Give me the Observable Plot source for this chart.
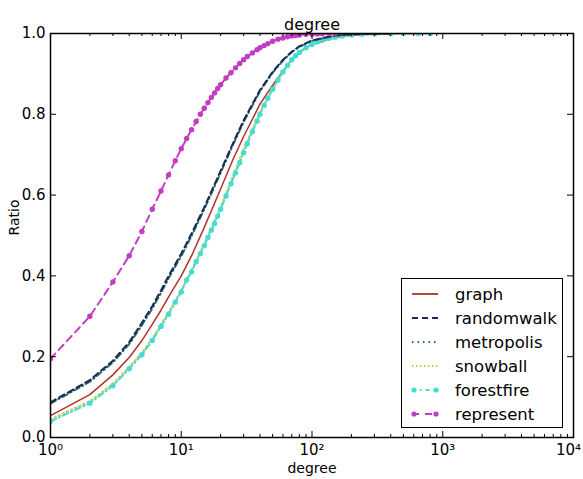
<!DOCTYPE html>
<html>
<head>
<meta charset="utf-8">
<script src="https://cdn.jsdelivr.net/npm/d3@7"></script>
<script src="https://cdn.jsdelivr.net/npm/@observablehq/plot@0.6"></script>
<style>
  html, body { margin: 0; padding: 0; background: #fff; }
  #wrap { position: relative; width: 583px; height: 479px; font-family: "DejaVu Sans", sans-serif; }
  #legend { position: absolute; left: 401px; top: 278px; width: 162px; height: 150px; border: 1.5px solid #000; background: #fff; box-sizing: border-box; }
  .row { position: absolute; left: 0; height: 24px; display: flex; align-items: center; font-size: 16.5px; color: #000; }
  .row svg { margin-left: 9px; margin-right: 16px; }
</style>
</head>
<body>
<div id="wrap"></div>
<script>
// ---- data ----
const seriesNames = ["graph", "randomwalk", "metropolis", "snowball", "forestfire", "represent"];
const seriesColors = ["#b0322a", "#1b2a5c", "#2f6a58", "#d2c85a", "#45dcd2", "#c23cc4"];

const graphDegree = [1, 2, 3, 4, 5, 6, 7, 8, 10, 12, 15, 20, 25, 30, 40, 50, 60, 70, 80, 100, 150, 200, 300, 500];
const graphRatio  = [0.054, 0.106, 0.155, 0.198, 0.24, 0.28, 0.315, 0.348, 0.40, 0.45, 0.52, 0.615, 0.69, 0.745, 0.825, 0.872, 0.907, 0.935, 0.953, 0.973, 0.99, 0.996, 0.999, 1.0];

const randomwalkDegree = [1, 2, 3, 4, 5, 6, 7, 8, 10, 12, 15, 20, 25, 30, 40, 50, 60, 70, 80, 100, 150, 200, 400];
const randomwalkRatio  = [0.087, 0.142, 0.19, 0.236, 0.284, 0.325, 0.364, 0.40, 0.455, 0.505, 0.57, 0.66, 0.73, 0.785, 0.86, 0.905, 0.935, 0.955, 0.968, 0.983, 0.995, 0.998, 1.0];

const metropolisDegree = [1, 2, 3, 4, 5, 6, 7, 8, 10, 12, 15, 20, 25, 30, 40, 50, 60, 70, 80, 100, 150, 200, 400];
const metropolisRatio  = [0.084, 0.138, 0.186, 0.231, 0.278, 0.319, 0.358, 0.394, 0.449, 0.499, 0.565, 0.655, 0.726, 0.781, 0.857, 0.903, 0.933, 0.954, 0.967, 0.982, 0.995, 0.998, 1.0];

const snowballDegree = [1, 2, 3, 4, 5, 6, 7, 8, 10, 12, 15, 20, 25, 30, 40, 50, 60, 70, 80, 100, 150, 200, 300, 500, 800];
const snowballRatio  = [0.045, 0.09, 0.133, 0.175, 0.21, 0.245, 0.28, 0.31, 0.365, 0.415, 0.48, 0.57, 0.65, 0.715, 0.805, 0.864, 0.905, 0.938, 0.955, 0.974, 0.989, 0.995, 0.998, 0.9995, 1.0];

const forestfireDegree = [1, 2, 3, 4, 5, 6, 7, 8, 9, 10, 11, 12, 13, 14, 15, 16, 17, 18, 19, 20, 22, 24, 26, 28, 30, 32, 35, 38, 40, 43, 46, 50, 55, 60, 65, 70, 75, 80, 90, 100, 110, 120, 135, 150, 170, 200, 240, 300, 400, 500, 650, 800];
const forestfireRatio  = [0.04, 0.085, 0.128, 0.17, 0.205, 0.24, 0.275, 0.305, 0.335, 0.36, 0.39, 0.41, 0.435, 0.455, 0.475, 0.495, 0.513, 0.53, 0.548, 0.565, 0.598, 0.628, 0.655, 0.68, 0.705, 0.727, 0.757, 0.783, 0.80, 0.822, 0.84, 0.862, 0.885, 0.905, 0.921, 0.935, 0.945, 0.953, 0.965, 0.973, 0.979, 0.983, 0.988, 0.991, 0.994, 0.996, 0.998, 0.999, 0.9995, 1.0, 1.0, 1.0];

const representDegree = [1, 2, 3, 4, 5, 6, 7, 8, 9, 10, 11, 12, 13, 14, 15, 16, 17, 18, 19, 20, 22, 24, 26, 28, 30, 32, 35, 38, 40, 43, 46, 50, 55, 60, 65, 70, 75, 80, 90, 100, 110, 120, 135, 150];
const representRatio  = [0.195, 0.30, 0.385, 0.45, 0.51, 0.565, 0.61, 0.65, 0.685, 0.715, 0.74, 0.762, 0.782, 0.80, 0.815, 0.829, 0.842, 0.853, 0.864, 0.873, 0.89, 0.903, 0.915, 0.926, 0.935, 0.943, 0.952, 0.96, 0.965, 0.97, 0.975, 0.981, 0.986, 0.989, 0.992, 0.994, 0.995, 0.996, 0.998, 0.998, 0.999, 0.9995, 1.0, 1.0];

const xTicks = [1, 10, 100, 1000, 10000];
const xTickLabels = ["10\u2070", "10\u00b9", "10\u00b2", "10\u00b3", "10\u2074"];
const yTicks = [0, 0.2, 0.4, 0.6, 0.8, 1.0];
const yTickLabels = ["0.0", "0.2", "0.4", "0.6", "0.8", "1.0"];

// ---- build tables ----
function rows(name, xs, ys) { return xs.map((d, i) => ({series: name, degree: d, ratio: ys[i]})); }
const graph = rows("graph", graphDegree, graphRatio);
const randomwalk = rows("randomwalk", randomwalkDegree, randomwalkRatio);
const metropolis = rows("metropolis", metropolisDegree, metropolisRatio);
const snowball = rows("snowball", snowballDegree, snowballRatio);
const forestfire = rows("forestfire", forestfireDegree, forestfireRatio);
const represent = rows("represent", representDegree, representRatio);
const xTickRows = xTicks.map((d, i) => ({v: d, label: xTickLabels[i]}));
const yTickRows = yTicks.map((d, i) => ({v: d, label: yTickLabels[i]}));

const minorTicks = [];
for (const base of [1, 10, 100, 1000]) for (let m = 2; m <= 9; m++) minorTicks.push(base * m);

const W = 583, H = 479, mL = 50, mR = 10, mT = 33, mB = 42;
const fw = W - mL - mR, fh = H - mT - mB;
const col = Object.fromEntries(seriesNames.map((n, i) => [n, seriesColors[i]]));

const chart = Plot.plot({
  width: W, height: H,
  marginLeft: mL, marginRight: mR, marginTop: mT, marginBottom: mB,
  style: {fontFamily: "DejaVu Sans, sans-serif", fontSize: "14px", background: "white", overflow: "visible"},
  x: {type: "log", domain: [1, 10000], axis: null},
  y: {domain: [0, 1], axis: null},
  marks: [
    Plot.line(graph, {x: "degree", y: "ratio", stroke: col.graph, strokeWidth: 1.5, clip: true}),
    Plot.line(snowball, {x: "degree", y: "ratio", stroke: col.snowball, strokeWidth: 2, strokeDasharray: "1.5,3", clip: true}),
    Plot.line(forestfire, {x: "degree", y: "ratio", stroke: col.forestfire, strokeWidth: 2, strokeDasharray: "6,3,1.5,3", clip: true}),
    Plot.dot(forestfire, {x: "degree", y: "ratio", fill: col.forestfire, r: 2.7, clip: true}),
    Plot.line(metropolis, {x: "degree", y: "ratio", stroke: col.metropolis, strokeWidth: 2, strokeDasharray: "6,3,1.5,3", clip: true}),
    Plot.line(randomwalk, {x: "degree", y: "ratio", stroke: col.randomwalk, strokeWidth: 2, strokeDasharray: "6,4", clip: true}),
    Plot.line(represent, {x: "degree", y: "ratio", stroke: col.represent, strokeWidth: 2, strokeDasharray: "7,5", clip: true}),
    Plot.dot(represent, {x: "degree", y: "ratio", fill: col.represent, r: 2.7, clip: true}),
    // inward ticks on all four sides
    Plot.ruleX(xTicks, {x: d => d, insetTop: fh - 6, stroke: "black", strokeWidth: 1}),
    Plot.ruleX(xTicks, {x: d => d, insetBottom: fh - 6, stroke: "black", strokeWidth: 1}),
    Plot.ruleX(minorTicks, {x: d => d, insetTop: fh - 3, stroke: "black", strokeWidth: 1}),
    Plot.ruleX(minorTicks, {x: d => d, insetBottom: fh - 3, stroke: "black", strokeWidth: 1}),
    Plot.ruleY(yTicks, {y: d => d, insetRight: fw - 6, stroke: "black", strokeWidth: 1}),
    Plot.ruleY(yTicks, {y: d => d, insetLeft: fw - 6, stroke: "black", strokeWidth: 1}),
    Plot.frame({stroke: "black", strokeWidth: 1.5}),
    // tick labels (the last one nudged left so it stays inside the window)
    Plot.text(xTickRows.slice(0, -1), {x: "v", frameAnchor: "bottom", text: "label", lineAnchor: "top", dy: 7, fontSize: 15}),
    Plot.text(xTickRows.slice(-1), {x: "v", frameAnchor: "bottom", text: "label", lineAnchor: "top", dy: 7, dx: -5, fontSize: 15}),
    Plot.text(yTickRows, {y: "v", frameAnchor: "left", text: "label", textAnchor: "end", dx: -5, fontSize: 15}),
    // titles
    Plot.text(["degree"], {frameAnchor: "top", text: d => d, lineAnchor: "bottom", dy: -4, fontSize: 16}),
    Plot.text(["degree"], {frameAnchor: "bottom", text: d => d, dy: 35, fontSize: 14}),
    Plot.text(["Ratio"], {frameAnchor: "left", text: d => d, dx: -36, rotate: -90, fontSize: 14})
  ]
});

const wrap = document.getElementById("wrap");
wrap.appendChild(chart);

// legend (drawn inside the axes, lower right)
const legendStyles = {
  graph: {dash: null, w: 1.8, dots: false},
  randomwalk: {dash: "6,4", w: 2, dots: false},
  metropolis: {dash: "1.5,4", w: 2, dots: false},
  snowball: {dash: "1.5,2.5", w: 2, dots: false},
  forestfire: {dash: "4,4,1.5,4", w: 2, dots: true},
  represent: {dash: "7,6", w: 2, dots: true}
};
const legend = document.createElement("div");
legend.id = "legend";
seriesNames.forEach((name, i) => {
  const s = legendStyles[name];
  const row = document.createElement("div");
  row.className = "row";
  row.style.top = (3 + i * 24) + "px";
  const ns = "http://www.w3.org/2000/svg";
  const svg = document.createElementNS(ns, "svg");
  svg.setAttribute("width", 28); svg.setAttribute("height", 10);
  const ln = document.createElementNS(ns, "line");
  ln.setAttribute("x1", 1); ln.setAttribute("x2", 27); ln.setAttribute("y1", 5); ln.setAttribute("y2", 5);
  ln.setAttribute("stroke", seriesColors[i]); ln.setAttribute("stroke-width", s.w);
  if (s.dash) ln.setAttribute("stroke-dasharray", s.dash);
  svg.appendChild(ln);
  if (s.dots) {
    for (const cx of [3, 25]) {
      const c = document.createElementNS(ns, "circle");
      c.setAttribute("cx", cx); c.setAttribute("cy", 5); c.setAttribute("r", 2.6);
      c.setAttribute("fill", seriesColors[i]);
      svg.appendChild(c);
    }
  }
  row.appendChild(svg);
  const t = document.createElement("span");
  t.textContent = name;
  row.appendChild(t);
  legend.appendChild(row);
});
wrap.appendChild(legend);
</script>
</body>
</html>
